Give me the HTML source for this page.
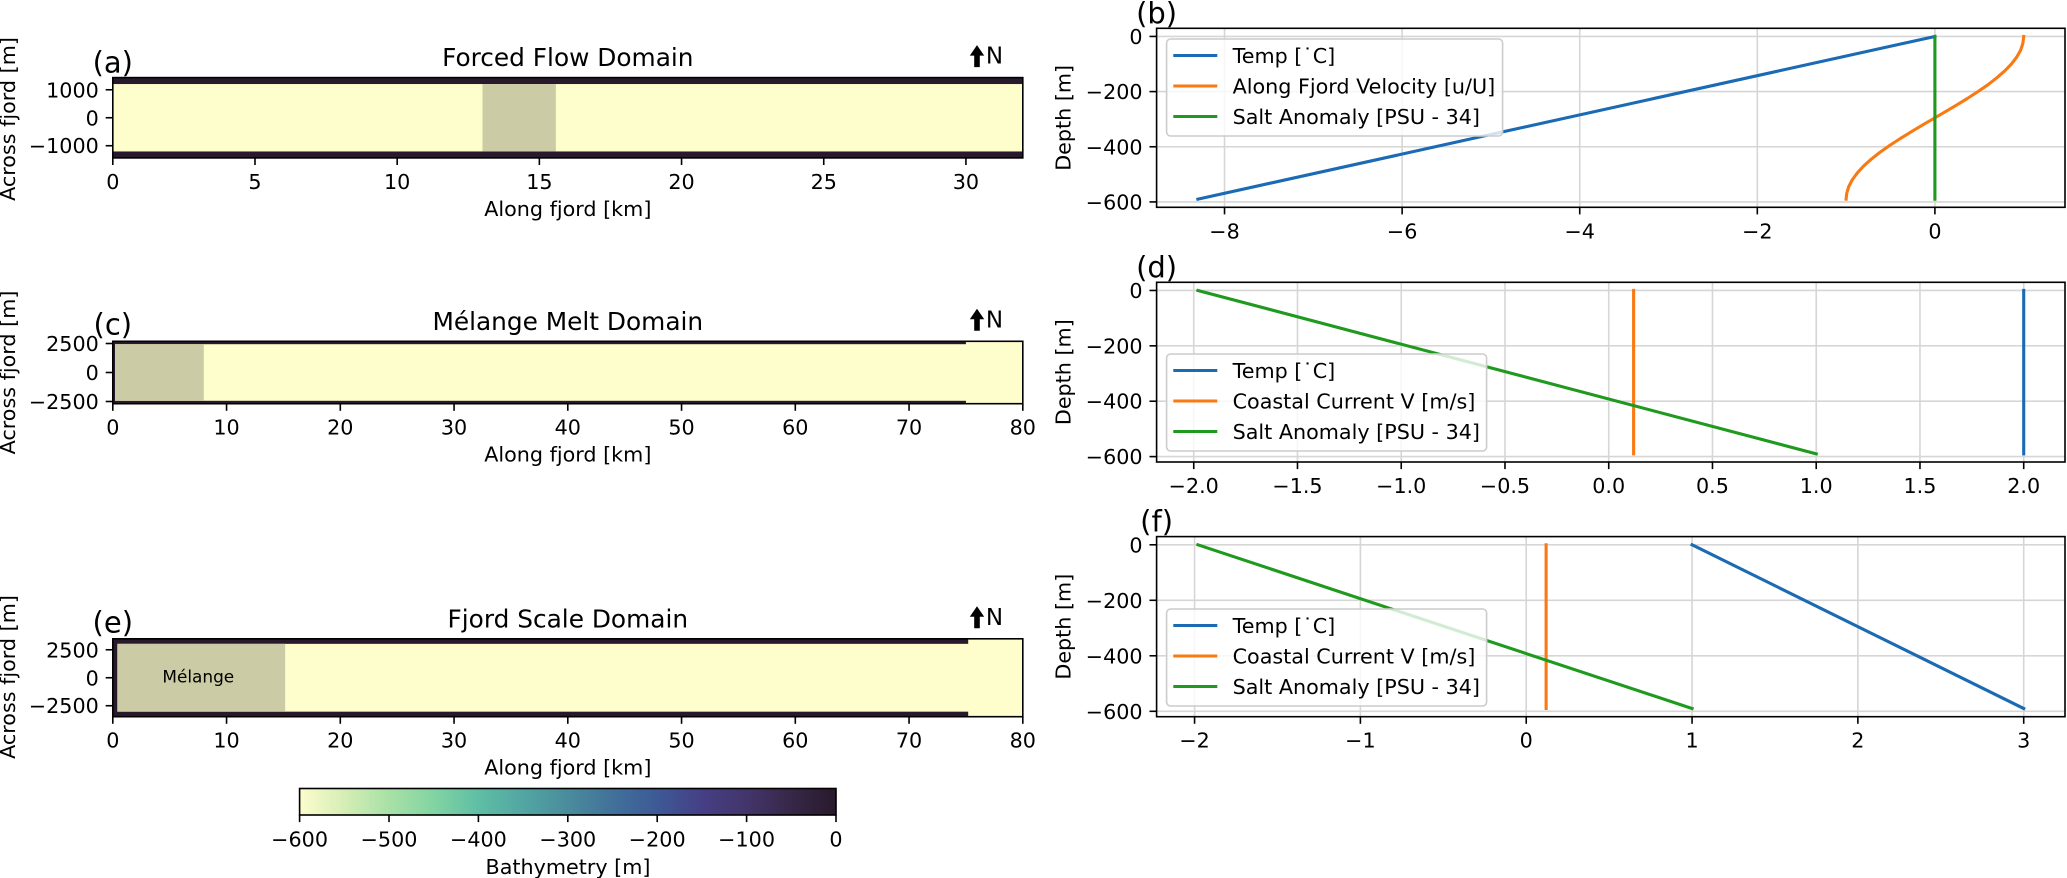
<!DOCTYPE html>
<html lang="en">
<head>
<meta charset="utf-8">
<title>Fjord model domains and forcing profiles</title>
<style>
html,body{margin:0;padding:0;background:#fff;}
#figure{display:block;width:2067px;height:878px;overflow:hidden;font-family:"DejaVu Sans","Liberation Sans",sans-serif;}
</style>
</head>
<body>
<svg id="figure" xmlns="http://www.w3.org/2000/svg" width="2067" height="878" viewBox="0 0 2067 878"></svg>
<script>
// ---------- Plan-view domain data ----------
const forcedXTicks = [0, 5, 10, 15, 20, 25, 30];
const forcedYTicks = [1000, 0, -1000];
const forcedYTickLabels = ['1000', '0', '\u22121000'];
const forcedXLim = [0, 32];
const forcedYLim = [-1435, 1435];
const forcedMelangeKm = [13, 15.58];
const forcedWallY = [1205];
const forcedWallEndKm = [32];
const forcedWallLeftKm = [0];

const melangeXTicks = [0, 10, 20, 30, 40, 50, 60, 70, 80];
const melangeYTicks = [2500, 0, -2500];
const melangeYTickLabels = ['2500', '0', '\u22122500'];
const melangeXLim = [0, 80];
const melangeYLim = [-2690, 2690];
const melangeMelangeKm = [0.2, 8];
const melangeWallY = [2440];
const melangeWallEndKm = [75];
const melangeWallLeftKm = [0.2];

const fjordXTicks = [0, 10, 20, 30, 40, 50, 60, 70, 80];
const fjordYTicks = [2500, 0, -2500];
const fjordYTickLabels = ['2500', '0', '\u22122500'];
const fjordXLim = [0, 80];
const fjordYLim = [-3480, 3480];
const fjordMelangeKm = [0.4, 15.15];
const fjordWallY = [3030];
const fjordWallEndKm = [75.2];
const fjordWallLeftKm = [0.4];

// ---------- Profile data ----------
const depthTicks = [0, -200, -400, -600];
const depthTickLabels = ['0', '\u2212200', '\u2212400', '\u2212600'];

const profileBXTicks = [-8, -6, -4, -2, 0];
const profileBXTickLabels = ['\u22128', '\u22126', '\u22124', '\u22122', '0'];
const profileBTempDepth = [0, -590];
const profileBTemp = [0, -8.3];
const profileBSaltDepth = [0, -590];
const profileBSalt = [0, 0];
const profileBVelDepth = [0, -25, -50, -75, -100, -125, -150, -175, -200, -225, -250, -275, -295, -320, -345, -370, -395, -420, -445, -470, -495, -520, -545, -570, -590];
const profileBVel = [1, 0.991, 0.965, 0.921, 0.861, 0.786, 0.697, 0.598, 0.484, 0.365, 0.237, 0.106, 0, -0.133, -0.263, -0.389, -0.508, -0.618, -0.717, -0.803, -0.874, -0.931, -0.971, -0.994, -1];

const profileDXTicks = [-2, -1.5, -1, -0.5, 0, 0.5, 1, 1.5, 2];
const profileDXTickLabels = ['\u22122.0', '\u22121.5', '\u22121.0', '\u22120.5', '0.0', '0.5', '1.0', '1.5', '2.0'];
const profileDTempDepth = [0, -590];
const profileDTemp = [2, 2];
const profileDCurrentDepth = [0, -590];
const profileDCurrent = [0.12, 0.12];
const profileDSaltDepth = [0, -590];
const profileDSalt = [-1.98, 1];

const profileFXTicks = [-2, -1, 0, 1, 2, 3];
const profileFXTickLabels = ['\u22122', '\u22121', '0', '1', '2', '3'];
const profileFTempDepth = [0, -590];
const profileFTemp = [1, 3];
const profileFCurrentDepth = [0, -590];
const profileFCurrent = [0.12, 0.12];
const profileFSaltDepth = [0, -590];
const profileFSalt = [-1.98, 1];

// ---------- Colorbar data ----------
const cbarTicks = [-600, -500, -400, -300, -200, -100, 0];
const cbarTickLabels = ['\u2212600', '\u2212500', '\u2212400', '\u2212300', '\u2212200', '\u2212100', '0'];
const cbarColors = ['#fdfdcc', '#d5eeb5', '#a8e1a6', '#82d4a3', '#5fbea5', '#52a6a3', '#4a8c9c', '#41719a', '#3d5a96', '#463f85', '#43356a', '#372748', '#281a2c'];

// ---------- Drawing helpers ----------
const NS = 'http://www.w3.org/2000/svg';
const svg = document.getElementById('figure');
const FS = 20.7;
const SPINE = 1.6;
const LW = 3.1;
const DARK = '#281a2c';

function make(parent, tag, attrs, name) {
  const el = document.createElementNS(NS, tag);
  for (const k in attrs) el.setAttribute(k, attrs[k]);
  
  
  parent.appendChild(el);
  return el;
}
function label(parent, x, y, str, size, anchor, name, extra) {
  const attrs = Object.assign({x: x, y: y, 'font-size': size, 'text-anchor': anchor, fill: '#000'}, extra || {});
  const t = make(parent, 'text', attrs, name);
  t.textContent = str;
  return t;
}
function linear(d0, d1, r0, r1) {
  return function (v) { return r0 + (v - d0) / (d1 - d0) * (r1 - r0); };
}
function frame(g, f) {
  make(g, 'rect', {x: f.left, y: f.top, width: f.right - f.left, height: f.bottom - f.top, fill: 'none', stroke: '#000', 'stroke-width': SPINE}, 'axes-frame');
}
function xAxis(g, f, sx, ticks, labels, title) {
  ticks.forEach(function (v, i) {
    make(g, 'line', {x1: sx(v), x2: sx(v), y1: f.bottom, y2: f.bottom + 7.1, stroke: '#000', 'stroke-width': SPINE}, 'x-tick');
    label(g, sx(v), f.bottom + 31, labels[i], FS, 'middle', 'x-tick-label');
  });
  if (title) label(g, (f.left + f.right) / 2, f.bottom + 58, title, FS, 'middle', 'x-axis-title');
}
function yAxis(g, f, sy, ticks, labels) {
  ticks.forEach(function (v, i) {
    make(g, 'line', {x1: f.left - 7.1, x2: f.left, y1: sy(v), y2: sy(v), stroke: '#000', 'stroke-width': SPINE}, 'y-tick');
    label(g, f.left - 14, sy(v) + 7.5, labels[i], FS, 'end', 'y-tick-label');
  });
}
function yTitle(g, x, y, str) {
  label(g, x, y, str, FS, 'middle', 'y-axis-title', {transform: 'rotate(-90 ' + x + ' ' + y + ')'});
}

// ---------- Plan-view domain panel ----------
function domainPanel(p) {
  const g = make(svg, 'g', {}, p.name);
  const f = p.frame;
  const sx = linear(p.xlim[0], p.xlim[1], f.left, f.right);
  const sy = linear(p.ylim[0], p.ylim[1], f.bottom, f.top);
  make(g, 'rect', {x: f.left, y: f.top, width: f.right - f.left, height: f.bottom - f.top, fill: '#fefdcc'}, 'fjord-water');
  const wall = p.wallY[0], end = p.wallEnd[0], lft = p.wallLeft[0];
  make(g, 'rect', {x: sx(p.xlim[0]), y: f.top, width: sx(end) - sx(p.xlim[0]), height: sy(wall) - f.top, fill: DARK}, 'north-wall');
  make(g, 'rect', {x: sx(p.xlim[0]), y: sy(-wall), width: sx(end) - sx(p.xlim[0]), height: f.bottom - sy(-wall), fill: DARK}, 'south-wall');
  if (lft > 0) make(g, 'rect', {x: sx(p.xlim[0]), y: f.top, width: sx(lft) - sx(p.xlim[0]), height: f.bottom - f.top, fill: DARK}, 'glacier-wall');
  make(g, 'rect', {x: sx(p.melange[0]), y: sy(wall), width: sx(p.melange[1]) - sx(p.melange[0]), height: sy(-wall) - sy(wall), fill: '#cbcba6'}, 'melange-region');
  frame(g, f);
  xAxis(g, f, sx, p.xticks, p.xticks.map(String), 'Along fjord [km]');
  yAxis(g, f, sy, p.yticks, p.yticklabels);
  yTitle(g, 15, p.ylabelY, 'Across fjord [m]');
  label(g, (f.left + f.right) / 2, f.top - 11.5, p.title, 24.8, 'middle', 'panel-title');
  label(g, f.left, f.top + p.letterDy, p.letter, 29, 'middle', 'panel-letter');
  const t = f.top - 32.5;
  make(g, 'polygon', {points: [[977, t], [984.2, t + 10.5], [979.8, t + 10.5], [979.8, t + 22], [974.2, t + 22], [974.2, t + 10.5], [969.8, t + 10.5]].join(' '), fill: '#000'}, 'north-arrow');
  label(g, 994.5, f.top - 14, 'N', 23, 'middle', 'north-label');
  return {g: g, sx: sx, sy: sy};
}

// ---------- Depth profile panel ----------
function profilePanel(p) {
  const g = make(svg, 'g', {}, p.name);
  const f = p.frame;
  const sx = linear(p.xlim[0], p.xlim[1], f.left, f.right);
  const sy = linear(-619.5, 29.5, f.bottom, f.top);
  p.xticks.forEach(function (v) {
    make(g, 'line', {x1: sx(v), x2: sx(v), y1: f.top, y2: f.bottom, stroke: '#d6d6d6', 'stroke-width': SPINE}, 'x-gridline');
  });
  depthTicks.forEach(function (v) {
    make(g, 'line', {x1: f.left, x2: f.right, y1: sy(v), y2: sy(v), stroke: '#d6d6d6', 'stroke-width': SPINE}, 'y-gridline');
  });
  p.series.forEach(function (s) {
    const pts = s.values.map(function (v, i) { return sx(v).toFixed(2) + ',' + sy(s.depth[i]).toFixed(2); }).join(' ');
    make(g, 'polyline', {points: pts, fill: 'none', stroke: s.color, 'stroke-width': LW, 'stroke-linecap': 'square', 'stroke-linejoin': 'round'}, s.name);
  });
  const lg = p.legend;
  const leg = make(g, 'g', {}, 'legend');
  make(leg, 'rect', {x: f.left + 10, y: lg.top, width: lg.width, height: 97, rx: 4, ry: 4, fill: '#fff', 'fill-opacity': 0.8, stroke: '#cccccc', 'stroke-width': 1.6}, 'legend-box');
  p.series.forEach(function (s, i) {
    const y = lg.top + 16.5 + i * 30.5;
    make(leg, 'line', {x1: f.left + 16.7, x2: f.left + 60.7, y1: y, y2: y, stroke: s.color, 'stroke-width': LW}, 'legend-swatch');
    label(leg, f.left + 76, y + 7.7, s.label, FS, 'start', 'legend-label');
  });
  frame(g, f);
  xAxis(g, f, sx, p.xticks, p.xticklabels, null);
  yAxis(g, f, sy, depthTicks, depthTickLabels);
  yTitle(g, 1070.5, (f.top + f.bottom) / 2, 'Depth [m]');
  label(g, f.left, f.top - 5, p.letter, 29, 'middle', 'panel-letter');
}

const BLUE = '#1a6ab4', ORANGE = '#f97a12', GREEN = '#1f9a1f';

domainPanel({name: 'forced-flow-panel', letter: '(a)', letterDy: -5.3, title: 'Forced Flow Domain', ylabelY: 119,
  frame: {left: 112.8, right: 1022.8, top: 77.6, bottom: 157.9},
  xlim: forcedXLim, ylim: forcedYLim, xticks: forcedXTicks, yticks: forcedYTicks, yticklabels: forcedYTickLabels,
  melange: forcedMelangeKm, wallY: forcedWallY, wallEnd: forcedWallEndKm, wallLeft: forcedWallLeftKm});

domainPanel({name: 'melange-melt-panel', letter: '(c)', letterDy: -7, title: 'M\u00e9lange Melt Domain', ylabelY: 372.5,
  frame: {left: 112.8, right: 1022.8, top: 341.3, bottom: 403.7},
  xlim: melangeXLim, ylim: melangeYLim, xticks: melangeXTicks, yticks: melangeYTicks, yticklabels: melangeYTickLabels,
  melange: melangeMelangeKm, wallY: melangeWallY, wallEnd: melangeWallEndKm, wallLeft: melangeWallLeftKm});

const fjord = domainPanel({name: 'fjord-scale-panel', letter: '(e)', letterDy: -6.5, title: 'Fjord Scale Domain', ylabelY: 677,
  frame: {left: 112.8, right: 1022.8, top: 638.8, bottom: 716.7},
  xlim: fjordXLim, ylim: fjordYLim, xticks: fjordXTicks, yticks: fjordYTicks, yticklabels: fjordYTickLabels,
  melange: fjordMelangeKm, wallY: fjordWallY, wallEnd: fjordWallEndKm, wallLeft: fjordWallLeftKm});
label(fjord.g, 198.3, 682.5, 'M\u00e9lange', 16.9, 'middle', 'melange-label');

profilePanel({name: 'profile-panel-b', letter: '(b)',
  frame: {left: 1156.6, right: 2065, top: 28.3, bottom: 207.3},
  xlim: [-8.765, 1.465], xticks: profileBXTicks, xticklabels: profileBXTickLabels,
  legend: {top: 39, width: 336},
  series: [
    {name: 'temp-line', label: 'Temp [\u02d9C]', color: BLUE, values: profileBTemp, depth: profileBTempDepth},
    {name: 'velocity-line', label: 'Along Fjord Velocity [u/U]', color: ORANGE, values: profileBVel, depth: profileBVelDepth},
    {name: 'salt-line', label: 'Salt Anomaly [PSU - 34]', color: GREEN, values: profileBSalt, depth: profileBSaltDepth}
  ]});

profilePanel({name: 'profile-panel-d', letter: '(d)',
  frame: {left: 1156.6, right: 2065, top: 282.3, bottom: 462},
  xlim: [-2.179, 2.199], xticks: profileDXTicks, xticklabels: profileDXTickLabels,
  legend: {top: 354, width: 320},
  series: [
    {name: 'temp-line', label: 'Temp [\u02d9C]', color: BLUE, values: profileDTemp, depth: profileDTempDepth},
    {name: 'current-line', label: 'Coastal Current V [m/s]', color: ORANGE, values: profileDCurrent, depth: profileDCurrentDepth},
    {name: 'salt-line', label: 'Salt Anomaly [PSU - 34]', color: GREEN, values: profileDSalt, depth: profileDSaltDepth}
  ]});

profilePanel({name: 'profile-panel-f', letter: '(f)',
  frame: {left: 1156.6, right: 2065, top: 536.6, bottom: 716.7},
  xlim: [-2.229, 3.249], xticks: profileFXTicks, xticklabels: profileFXTickLabels,
  legend: {top: 609, width: 320},
  series: [
    {name: 'temp-line', label: 'Temp [\u02d9C]', color: BLUE, values: profileFTemp, depth: profileFTempDepth},
    {name: 'current-line', label: 'Coastal Current V [m/s]', color: ORANGE, values: profileFCurrent, depth: profileFCurrentDepth},
    {name: 'salt-line', label: 'Salt Anomaly [PSU - 34]', color: GREEN, values: profileFSalt, depth: profileFSaltDepth}
  ]});

// ---------- Colorbar ----------
(function () {
  const g = make(svg, 'g', {}, 'bathymetry-colorbar');
  const f = {left: 299.6, right: 836, top: 788.5, bottom: 815};
  const sx = linear(-600, 0, f.left, f.right);
  const defs = make(g, 'defs', {}, 'colorbar-defs');
  const grad = make(defs, 'linearGradient', {id: 'bathy', x1: 0, x2: 1, y1: 0, y2: 0}, 'colorbar-gradient');
  cbarColors.forEach(function (c, i) {
    make(grad, 'stop', {offset: i / (cbarColors.length - 1), 'stop-color': c}, 'colorbar-stop');
  });
  make(g, 'rect', {x: f.left, y: f.top, width: f.right - f.left, height: f.bottom - f.top, fill: 'url(#bathy)'}, 'colorbar-ramp');
  frame(g, f);
  cbarTicks.forEach(function (v, i) {
    make(g, 'line', {x1: sx(v), x2: sx(v), y1: f.bottom, y2: f.bottom + 7.1, stroke: '#000', 'stroke-width': SPINE}, 'colorbar-tick');
    label(g, sx(v), 846.4, cbarTickLabels[i], FS, 'middle', 'colorbar-tick-label');
  });
  label(g, 568, 874, 'Bathymetry [m]', FS, 'middle', 'colorbar-title');
})();
</script>
</body>
</html>
